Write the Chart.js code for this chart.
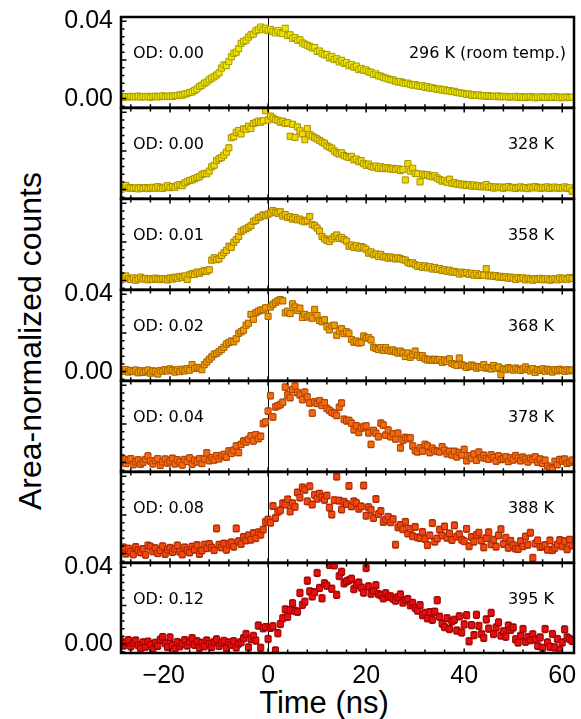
<!DOCTYPE html>
<html><head><meta charset="utf-8">
<script src="https://cdn.jsdelivr.net/npm/chart.js@4.4.1/dist/chart.umd.min.js"></script>
<style>
html,body{margin:0;padding:0;background:#fff;width:581px;height:719px;overflow:hidden;position:relative}
.ttl{position:absolute;font-family:"Liberation Sans",Arial,sans-serif;color:#000;white-space:nowrap;line-height:1}
#ytitle{left:30px;top:341px;font-size:32px;transform:translate(-50%,-50%) rotate(-90deg)}
#xtitle{left:324px;top:702px;font-size:31px;transform:translate(-50%,-50%)}
</style></head><body>
<div id="ytitle" class="ttl">Area-normalized counts</div>
<div id="xtitle" class="ttl">Time (ns)</div>
<script>
// ---- data (time in ns, counts in units of 1e-3) ----
const times = [
-30,-29.5,-29,-28.5,-28,-27.5,-27,-26.5,-26,-25.5,
-25,-24.5,-24,-23.5,-23,-22.5,-22,-21.5,-21,-20.5,
-20,-19.5,-19,-18.5,-18,-17.5,-17,-16.5,-16,-15.5,
-15,-14.5,-14,-13.5,-13,-12.5,-12,-11.5,-11,-10.5,
-10,-9.5,-9,-8.5,-8,-7.5,-7,-6.5,-6,-5.5,
-5,-4.5,-4,-3.5,-3,-2.5,-2,-1.5,-1,-0.5,
0,0.5,1,1.5,2,2.5,3,3.5,4,4.5,
5,5.5,6,6.5,7,7.5,8,8.5,9,9.5,
10,10.5,11,11.5,12,12.5,13,13.5,14,14.5,
15,15.5,16,16.5,17,17.5,18,18.5,19,19.5,
20,20.5,21,21.5,22,22.5,23,23.5,24,24.5,
25,25.5,26,26.5,27,27.5,28,28.5,29,29.5,
30,30.5,31,31.5,32,32.5,33,33.5,34,34.5,
35,35.5,36,36.5,37,37.5,38,38.5,39,39.5,
40,40.5,41,41.5,42,42.5,43,43.5,44,44.5,
45,45.5,46,46.5,47,47.5,48,48.5,49,49.5,
50,50.5,51,51.5,52,52.5,53,53.5,54,54.5,
55,55.5,56,56.5,57,57.5,58,58.5,59,59.5,
60,60.5,61,61.5,62];

const counts296K = [
1.0,0.6,1.1,0.8,1.2,0.9,1.0,1.3,0.8,1.1,
0.9,1.2,0.7,1.0,1.3,0.9,1.1,1.4,1.0,1.2,
1.3,1.1,1.6,1.5,2.0,1.8,2.4,2.6,3.2,3.4,
4.2,5.0,6.3,6.9,8.0,8.6,9.8,10.6,11.3,12.2,
13.3,15.8,17.4,17.0,19.2,21.6,23.4,24.0,25.8,28.6,
29.6,30.2,31.8,33.0,33.4,35.0,35.8,37.0,35.6,36.4,
35.2,35.8,34.6,34.0,35.2,34.0,33.6,36.4,32.6,33.0,
31.2,31.6,30.2,30.4,28.8,28.2,27.6,27.0,26.2,26.4,
24.4,24.6,23.4,22.6,22.8,21.0,21.8,20.2,20.6,19.0,
19.8,18.2,18.6,17.0,17.6,16.2,16.8,15.0,15.6,14.6,
14.8,13.8,13.6,12.4,12.8,11.8,11.6,11.0,10.6,10.2,
9.8,9.6,9.0,8.6,8.8,8.2,7.8,8.0,7.4,7.0,
7.2,6.6,6.4,6.6,5.8,6.2,5.4,5.6,5.2,4.8,
5.0,4.4,4.6,4.0,4.2,3.6,3.8,3.2,3.0,2.8,
2.6,2.2,2.4,1.8,2.0,1.6,1.9,1.4,1.6,1.2,
1.5,1.1,1.3,1.0,1.4,0.9,1.1,1.2,0.8,1.0,
0.9,1.2,0.6,1.0,0.8,0.5,0.9,1.1,0.7,0.4,
0.8,0.6,1.0,0.7,0.5,0.9,0.6,1.1,0.7,0.4,
0.8,0.5,0.9,0.6,0.7];

const counts328K = [
0.2,1.2,2.2,0.8,1.0,0.6,0.9,0.4,1.0,0.7,
1.1,0.5,0.8,1.2,0.7,1.5,0.9,0.6,1.3,2.0,
1.0,1.6,1.2,2.2,2.6,2.0,3.4,4.2,4.8,5.0,
5.6,6.2,6.6,7.8,8.4,8.2,9.6,11.8,12.6,15.0,
16.0,16.6,17.8,19.4,21.6,26.8,27.4,29.6,30.6,28.8,
31.4,31.2,32.8,31.6,34.2,34.6,35.4,34.8,35.6,40.8,
36.0,38.0,37.0,36.2,35.8,34.8,35.4,34.2,34.6,27.6,
33.8,27.0,32.4,30.4,28.8,25.8,31.6,28.4,27.6,26.8,
26.2,25.4,24.6,24.0,22.6,22.0,21.4,20.0,19.0,18.4,
19.0,17.6,17.0,16.6,17.2,15.4,15.8,14.4,15.0,13.4,
12.6,13.2,12.0,11.6,12.2,11.0,11.8,10.8,11.4,11.2,
10.6,11.0,10.4,10.8,9.8,10.4,5.0,13.4,9.6,11.0,
8.4,8.2,4.0,8.0,7.4,7.8,7.0,6.6,7.2,6.0,
5.2,4.4,4.8,3.8,5.4,3.2,3.6,2.8,3.0,2.4,
2.8,2.2,2.6,1.8,2.4,1.6,2.0,1.4,1.8,2.6,
1.2,1.6,0.8,1.4,1.0,1.3,0.7,1.2,1.6,0.9,
1.2,0.6,1.0,1.4,0.8,1.1,0.5,1.3,0.9,1.6,
1.0,0.7,1.2,0.8,1.4,0.6,1.0,1.3,0.7,1.1,
0.8,1.4,0.6,0.9,-0.8];

const counts358K = [
0.4,1.6,2.4,1.0,0.6,1.4,0.2,1.0,1.8,0.8,
1.2,0.4,1.0,0.6,1.3,0.8,0.5,1.1,0.9,0.3,
1.4,0.8,1.8,1.2,2.2,1.6,2.4,0.6,3.0,3.6,
3.2,4.4,3.8,4.6,5.2,4.8,5.6,10.6,11.8,10.8,
11.2,13.0,14.4,15.6,17.8,17.2,19.8,21.2,22.8,25.4,
26.2,26.8,27.6,28.4,30.6,31.2,32.6,33.0,34.0,33.6,
34.4,35.0,36.2,35.4,34.8,35.6,33.4,34.2,32.6,33.0,
31.8,32.6,31.4,31.8,30.8,30.4,31.2,33.2,29.0,28.4,
27.2,25.6,22.8,21.6,20.8,20.2,21.6,22.8,23.6,21.8,
22.4,21.2,20.4,17.8,18.4,17.2,18.0,16.8,17.6,17.0,
16.2,14.2,14.8,13.4,13.8,12.6,13.6,12.2,12.4,11.6,
12.2,11.8,11.2,11.8,11.4,10.8,10.6,9.4,8.8,9.2,
8.2,7.4,7.8,6.8,7.6,6.6,7.2,6.0,6.8,5.8,
6.2,5.2,5.6,4.8,5.4,4.4,4.8,4.2,3.4,4.4,
3.8,4.2,3.2,3.8,2.8,3.6,2.6,3.2,2.8,6.2,
2.4,2.8,2.2,2.6,1.8,2.2,1.6,2.0,1.2,1.8,
1.4,0.6,1.6,1.0,1.4,0.4,1.2,0.8,0.2,1.0,
0.6,1.2,0.4,0.8,1.0,0.2,0.6,1.0,0.4,1.4,
0.8,1.2,0.6,1.6,1.0];

const counts368K = [
0.8,0.2,1.0,-0.2,0.6,0.0,0.8,-0.6,0.4,-0.4,
0.2,0.8,-0.8,0.4,0.0,-1.2,0.6,0.2,1.0,0.4,
1.4,0.6,-0.2,1.0,0.0,1.2,0.4,1.6,0.8,3.6,
1.6,2.2,1.8,1.0,3.6,5.0,6.4,7.6,9.0,9.4,
10.4,11.4,12.6,14.2,15.0,15.8,15.4,17.0,19.8,20.6,
21.4,24.0,25.0,29.6,27.0,30.4,31.2,31.8,32.0,33.0,
28.6,33.4,34.8,35.8,36.6,37.2,36.6,30.4,31.2,30.0,
35.0,33.4,31.6,32.8,28.0,29.6,28.2,28.8,27.6,32.2,
29.0,26.4,25.8,26.8,23.2,21.6,23.6,24.0,18.8,21.0,
22.2,19.6,20.6,19.8,16.6,15.2,15.8,14.8,15.0,18.4,
17.4,17.6,16.4,12.6,12.0,11.4,12.4,11.0,12.4,11.0,
10.6,11.2,10.2,9.6,10.6,9.6,7.8,9.6,7.4,8.8,
10.6,8.4,7.4,8.2,6.6,6.0,6.4,5.8,6.4,5.8,
6.2,4.8,6.0,5.2,6.6,4.2,3.8,3.2,7.0,3.6,
3.0,2.2,2.6,3.4,2.8,1.8,2.6,2.2,3.6,1.8,
2.2,1.4,3.2,1.6,2.4,-1.6,1.4,1.0,2.0,1.6,
0.8,1.8,1.2,0.6,1.4,2.4,1.0,0.4,1.6,-0.4,
1.0,0.6,1.4,0.2,1.2,0.8,-0.2,1.0,0.4,1.2,
0.6,0.2,1.0,0.4,0.8];

const counts378K = [
0.6,1.8,-0.4,1.2,2.0,-1.0,0.4,1.4,-0.8,0.2,
1.6,3.4,0.8,-0.6,1.0,2.0,-1.4,0.4,1.8,-0.2,
0.8,2.2,-0.6,1.4,0.2,-1.2,1.6,0.6,2.4,-0.8,
1.2,0.4,2.0,-0.4,1.8,5.0,1.0,2.6,1.4,3.6,
2.0,3.4,4.2,2.8,6.0,4.8,6.4,8.6,5.2,9.4,
11.2,10.6,12.0,13.8,11.2,14.4,12.4,13.6,20.2,21.0,
26.6,34.6,23.6,28.8,29.4,30.0,31.2,39.0,35.0,33.6,
37.8,39.6,36.2,35.0,32.6,36.4,34.0,30.8,25.6,31.4,
30.6,32.0,29.6,31.0,28.0,27.0,26.0,25.4,24.4,28.6,
30.8,22.4,21.6,21.8,20.4,17.0,19.0,15.6,17.8,18.6,
19.0,15.4,9.4,16.6,15.2,13.4,20.4,19.4,14.2,16.8,
13.4,14.8,12.2,15.2,7.6,11.6,13.0,12.4,12.8,8.6,
6.2,5.6,7.6,6.0,9.4,8.6,5.2,7.4,6.2,5.8,
5.6,8.2,6.4,4.6,5.8,4.0,5.8,3.0,5.2,4.0,
6.8,1.0,3.4,2.2,4.4,1.2,5.4,2.6,3.8,2.2,
1.8,4.0,2.6,0.8,3.4,1.6,2.0,3.0,0.6,2.4,
1.4,3.6,2.4,1.0,2.8,1.8,0.4,2.2,1.6,3.0,
0.2,1.8,-0.4,1.2,-1.8,-2.8,-3.4,0.6,-1.0,1.6,
0.8,1.8,-0.4,0.2,1.2];

const counts388K = [
1.4,3.2,0.0,2.6,1.0,-0.4,3.4,1.8,0.6,2.4,
-0.6,4.2,3.6,1.2,2.8,0.2,1.6,3.8,-0.2,2.0,
3.0,0.8,2.4,4.2,1.0,-0.4,3.2,1.8,0.6,3.6,
2.0,4.4,-0.2,1.6,4.6,2.8,5.0,3.2,1.8,13.0,
4.6,3.2,5.2,2.0,4.8,5.8,3.6,13.0,6.4,5.0,
8.6,6.8,9.4,7.2,10.6,8.0,11.0,9.8,12.4,16.4,
17.6,16.0,24.6,18.4,21.6,22.4,26.0,25.4,28.0,21.8,
26.0,24.2,31.6,29.0,34.2,33.0,27.0,34.8,25.4,30.4,
28.4,31.0,29.2,27.8,30.0,23.8,20.2,27.6,39.8,27.4,
22.8,26.8,25.6,35.0,24.4,27.0,26.2,23.2,24.4,35.2,
19.6,24.0,22.6,18.4,28.2,20.4,22.0,16.4,17.6,19.0,
16.2,17.8,4.6,13.6,14.8,12.6,16.4,10.4,12.8,9.0,
13.8,8.4,8.0,11.2,7.6,4.4,9.4,15.8,6.2,7.8,
12.4,9.4,14.0,8.2,10.4,7.0,14.6,8.8,10.0,7.2,
6.4,12.8,3.8,8.6,6.2,9.6,10.8,6.8,3.2,8.0,
11.0,4.8,7.2,3.6,9.4,12.6,5.0,8.2,3.0,6.6,
4.4,2.6,2.4,6.4,3.8,8.8,4.6,10.8,-2.2,5.2,
6.8,3.4,3.6,4.4,2.0,6.8,1.8,3.0,4.6,7.0,
3.8,6.4,2.2,7.2,4.2];

const counts395K = [
1.4,-0.8,0.6,2.0,-1.2,0.4,1.8,-0.6,-2.2,0.8,
-1.4,1.2,-0.2,-2.8,0.6,-1.0,2.2,3.6,0.4,-1.6,
3.4,-0.6,-2.4,1.0,-1.2,0.2,2.0,-0.8,1.2,3.0,
-0.4,1.4,-2.0,0.6,-1.2,1.8,0.2,-1.6,1.0,2.4,
-1.0,0.6,1.6,-2.2,0.8,-0.4,1.4,-1.8,0.2,1.0,
3.0,5.2,-1.8,2.6,4.2,1.8,9.6,-2.0,8.2,8.8,
2.6,8.4,9.2,-3.4,5.6,10.4,13.4,18.0,14.2,17.6,
21.2,17.2,16.8,26.6,20.4,22.0,33.0,27.4,24.8,27.0,
37.0,29.2,23.8,31.6,30.4,41.2,28.8,41.0,25.6,35.4,
37.6,31.6,32.6,33.2,34.0,28.6,30.8,32.0,29.4,26.8,
39.6,30.0,26.2,27.6,30.6,26.0,25.4,23.8,26.4,24.6,
24.8,23.6,22.6,24.4,25.8,21.6,22.8,23.4,20.2,21.4,
18.8,17.4,20.2,15.0,16.2,13.4,16.6,12.6,16.8,22.8,
14.2,10.6,8.8,13.4,7.8,11.8,12.6,7.0,14.4,6.0,
10.2,15.0,1.4,9.8,4.6,15.2,9.4,5.2,3.2,12.8,
8.0,16.2,5.2,8.6,11.2,4.4,6.6,3.8,9.6,7.4,
8.6,2.4,0.8,4.2,7.8,1.2,3.6,2.0,5.0,2.4,
-1.0,3.4,-2.0,7.8,0.8,-1.4,5.2,-1.8,2.6,-3.2,
0.8,7.6,3.4,2.6,1.6];

const odLabels = ['OD: 0.00','OD: 0.00','OD: 0.01','OD: 0.02','OD: 0.04','OD: 0.08','OD: 0.12'];
const tempLabels = ['296 K (room temp.)','328 K','358 K','368 K','378 K','388 K','395 K'];
const errorHalfWidth_e3 = [1.4,1.4,1.4,1.5,1.7,1.8,1.9];
const xTickValues = [-20,0,20,40,60];
const xMinorTickValues = [-28,-24,-16,-12,-8,-4,4,8,12,16,24,28,32,36,44,48,52,56];
const yTickValues = [0,0.04];
const yMajorTickMarks = [0,0.02,0.04];
const yMinorTickMarks = [-0.004,0.004,0.008,0.012,0.016,0.024,0.028,0.032,0.036];
const yLabelledPanels = [true,false,false,true,false,false,true];

// ---- styles ----
const fillColors = ['#efe600','#f0d800','#f0c400','#f09c00','#f46a10','#f24810','#e41010'];
const edgeColors = ['#a89c00','#a89200','#a88200','#a86400','#b04000','#a82800','#9c0000'];
const X_MIN = -30, X_MAX = 62.4, Y_MIN = -0.0047, Y_MAX = 0.0422;
const panelTops = [17,108,199,290,381,472,563];
const panelBottom = 653;

Chart.defaults.font.family = '"Liberation Sans", Arial, sans-serif';
Chart.defaults.color = '#000';

const panelPlugin = {
  id: 'panel',
  beforeDatasetsDraw(chart, args, o) {
    const {ctx, chartArea: a, scales: {x, y}} = chart;
    ctx.save();
    ctx.beginPath(); ctx.rect(a.left, a.top, a.width, a.height); ctx.clip();
    const x0 = Math.round(x.getPixelForValue(0)) + 0.5;
    ctx.strokeStyle = '#000'; ctx.lineWidth = 1;
    ctx.beginPath(); ctx.moveTo(x0, a.top); ctx.lineTo(x0, a.bottom); ctx.stroke();
    const ds = chart.data.datasets[0];
    const meta = chart.getDatasetMeta(0);
    ctx.strokeStyle = ds.borderColor; ctx.lineWidth = 1;
    ctx.beginPath();
    meta.data.forEach((pt, i) => {
      const v = ds.data[i].y;
      const yt = y.getPixelForValue(v + o.err), yb = y.getPixelForValue(v - o.err);
      const px = pt.x;
      ctx.moveTo(px, yt); ctx.lineTo(px, yb);
      ctx.moveTo(px - 2.5, yt); ctx.lineTo(px + 2.5, yt);
      ctx.moveTo(px - 2.5, yb); ctx.lineTo(px + 2.5, yb);
    });
    ctx.stroke();
    ctx.restore();
  },
  afterDatasetsDraw(chart, args, o) {
    const {ctx, chartArea: a, scales: {x, y}} = chart;
    ctx.save();
    ctx.strokeStyle = '#000'; ctx.lineWidth = 1.5;
    ctx.beginPath();
    const tx = (v, len) => {
      const px = x.getPixelForValue(v);
      ctx.moveTo(px, a.bottom); ctx.lineTo(px, a.bottom - len);
      if (o.topTicks) { ctx.moveTo(px, a.top); ctx.lineTo(px, a.top + len); }
    };
    xTickValues.forEach(v => tx(v, 4.5));
    xMinorTickValues.forEach(v => tx(v, 3.5));
    const ty = (v, len) => { const py = y.getPixelForValue(v); ctx.moveTo(a.left, py); ctx.lineTo(a.left + len, py); };
    yMajorTickMarks.forEach(v => ty(v, 5.5));
    yMinorTickMarks.forEach(v => ty(v, 3.5));
    ctx.stroke();
    ctx.lineWidth = 2.5;
    ctx.strokeRect(a.left, a.top, a.width, a.height);
    ctx.fillStyle = '#000';
    ctx.font = '16px "DejaVu Sans"';
    ctx.textBaseline = 'middle';
    ctx.textAlign = 'left';
    ctx.fillText(o.od, a.left + 12, a.top + 36.5);
    ctx.textAlign = 'right';
    ctx.fillText(o.temp, a.right - o.tempInset, a.top + 36.5);
    ctx.restore();
  }
};

const fmtX = v => v < 0 ? '\u2212' + Math.abs(v) + '\u2002' : String(v);

[counts296K, counts328K, counts358K, counts368K, counts378K, counts388K, counts395K].forEach((vals, i) => {
  const isLast = i === 6;
  const top = panelTops[i];
  const h = (isLast ? panelBottom : panelTops[i + 1]) - top;
  const PAD_T = 14, PAD_B = 5;
  const cTop = top - PAD_T;
  const cH = isLast ? 719 - cTop : h + PAD_T + PAD_B;
  const cv = document.createElement('canvas');
  cv.width = 581; cv.height = cH;
  cv.style.position = 'absolute'; cv.style.left = '0px'; cv.style.top = cTop + 'px';
  document.body.appendChild(cv);
  new Chart(cv, {
    type: 'scatter',
    data: { datasets: [{
      data: times.map((t, k) => ({x: t, y: vals[k] / 1000})),
      backgroundColor: fillColors[i], borderColor: edgeColors[i], borderWidth: 1,
      pointStyle: 'rect', pointRadius: 4.3, pointHoverRadius: 4.3
    }]},
    options: {
      responsive: false, animation: false, devicePixelRatio: 1,
      layout: { padding: { left: 0, right: 7, top: PAD_T, bottom: isLast ? 0 : PAD_B } },
      plugins: {
        legend: { display: false }, tooltip: { enabled: false },
        panel: { err: errorHalfWidth_e3[i] / 1000, od: odLabels[i], temp: tempLabels[i],
                 tempInset: i === 0 ? 8 : 20, topTicks: i > 0 }
      },
      scales: {
        x: {
          type: 'linear', min: X_MIN, max: X_MAX, display: isLast,
          grid: { display: false, drawTicks: false }, border: { display: false },
          ticks: { font: { size: 25 }, color: '#000', padding: 8, maxRotation: 0, autoSkip: false, callback: fmtX },
          afterBuildTicks: s => { s.ticks = xTickValues.map(v => ({value: v})); },
          afterFit: s => {
            s.height = isLast ? 719 - panelBottom : 0;
            s.paddingLeft = 0; s.paddingRight = 0;
          }
        },
        y: {
          type: 'linear', min: Y_MIN, max: Y_MAX,
          grid: { display: false, drawTicks: false }, border: { display: false },
          ticks: { display: yLabelledPanels[i], font: { size: 25 }, color: '#000', padding: 8,
                   callback: v => v.toFixed(2) },
          afterBuildTicks: s => { s.ticks = yTickValues.map(v => ({value: v})); },
          afterFit: s => { s.width = 121; s.paddingTop = 0; s.paddingBottom = 0; }
        }
      }
    },
    plugins: [panelPlugin]
  });
});
</script>
</body></html>
